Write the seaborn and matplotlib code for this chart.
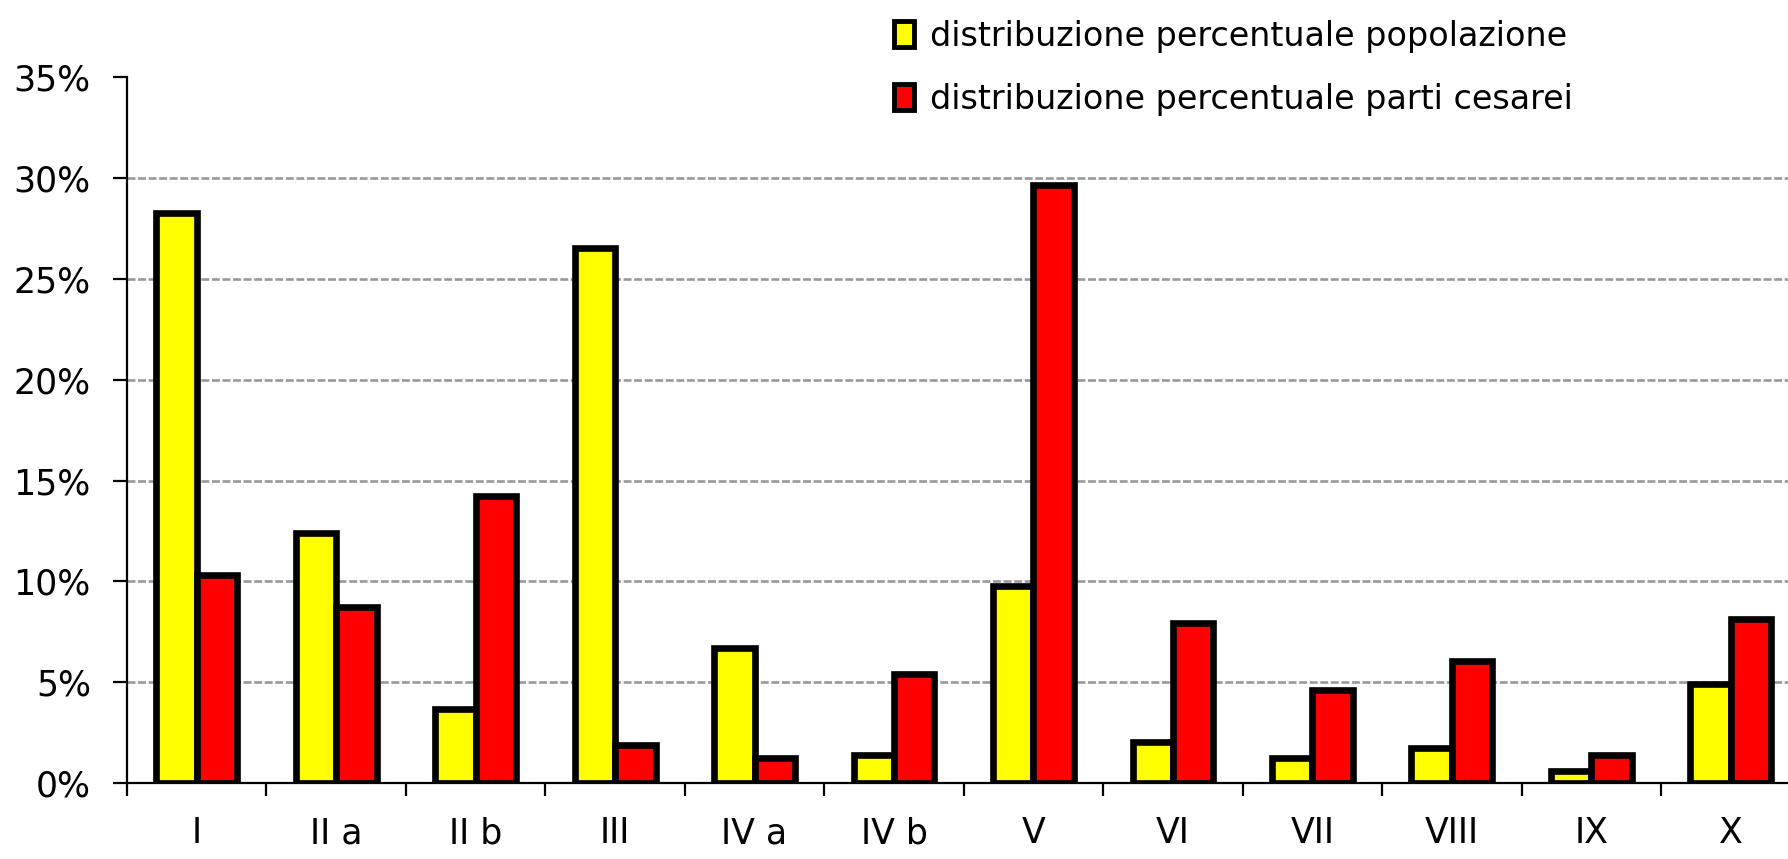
import numpy as np
import pandas as pd
import matplotlib
matplotlib.use('Agg')
import matplotlib.pyplot as plt
import matplotlib.patches as mpatches
import seaborn as sns

# Classi di Robson e percentuali
classi = ['I', 'II a', 'II b', 'III', 'IV a', 'IV b', 'V', 'VI', 'VII', 'VIII', 'IX', 'X']
popolazione = [28.25, 12.4, 3.65, 26.55, 6.7, 1.4, 9.75, 2.05, 1.25, 1.75, 0.6, 4.9]
cesarei = [10.3, 8.75, 14.25, 1.9, 1.25, 5.4, 29.65, 7.95, 4.6, 6.05, 1.4, 8.15]
serie = ['distribuzione percentuale popolazione', 'distribuzione percentuale parti cesarei']
colori = ['#ffff00', '#ff0000']

df = pd.DataFrame({
    'classe': classi * 2,
    'valore': popolazione + cesarei,
    'serie': [serie[0]] * len(classi) + [serie[1]] * len(classi),
})

sns.set_style('white')
plt.rcParams['font.family'] = ['DejaVu Sans']
plt.rcParams['text.color'] = 'black'
plt.rcParams['xtick.color'] = 'black'
plt.rcParams['ytick.color'] = 'black'

fig = plt.figure(figsize=(17.88, 8.59), dpi=100)
ax = fig.add_axes([0.071, 0.0885, 0.929, 0.8215])

sns.barplot(data=df, x='classe', y='valore', hue='serie', palette=colori,
            saturation=1, width=0.58, gap=0, edgecolor='black', linewidth=4.8,
            ax=ax, legend=False, errorbar=None)

ax.set_ylim(0, 35)
ax.set_xlim(-0.5, 11.41)
ax.set_yticks(np.arange(0, 36, 5))
ax.set_yticklabels([f'{v}%' for v in range(0, 36, 5)])
ax.set_xlabel('')
ax.set_ylabel('')

# griglia tratteggiata
for v in range(5, 35, 5):
    ax.axhline(v, color='#999999', linestyle=(0, (3, 1)), linewidth=1.9, zorder=0)
ax.set_axisbelow(True)

for s in ['top', 'right']:
    ax.spines[s].set_visible(False)
for s in ['left', 'bottom']:
    ax.spines[s].set_linewidth(1.6)
    ax.spines[s].set_color('black')
    ax.spines[s].set_zorder(0.5)

ax.tick_params(axis='y', which='major', direction='out', length=10, width=1.6,
               labelsize=25, labelcolor='black', pad=16, left=True)
ax.tick_params(axis='x', which='major', length=0, labelsize=25, labelcolor='black', pad=24)
ax.set_xticks(np.arange(-0.5, 11), minor=True)
ax.tick_params(axis='x', which='minor', direction='out', length=9.5, width=1.6, bottom=True)

handles = [mpatches.Patch(facecolor=c, edgecolor='black', linewidth=3.5, label=l)
           for c, l in zip(colori, serie)]
fig.legend(handles=handles, loc='upper left', bbox_to_anchor=(0.483, 1.012),
           frameon=False, fontsize=24, labelcolor='black', handlelength=0.6,
           handleheight=0.8, handletextpad=0.5, labelspacing=0.9)

fig.savefig('out.png', dpi=100)
